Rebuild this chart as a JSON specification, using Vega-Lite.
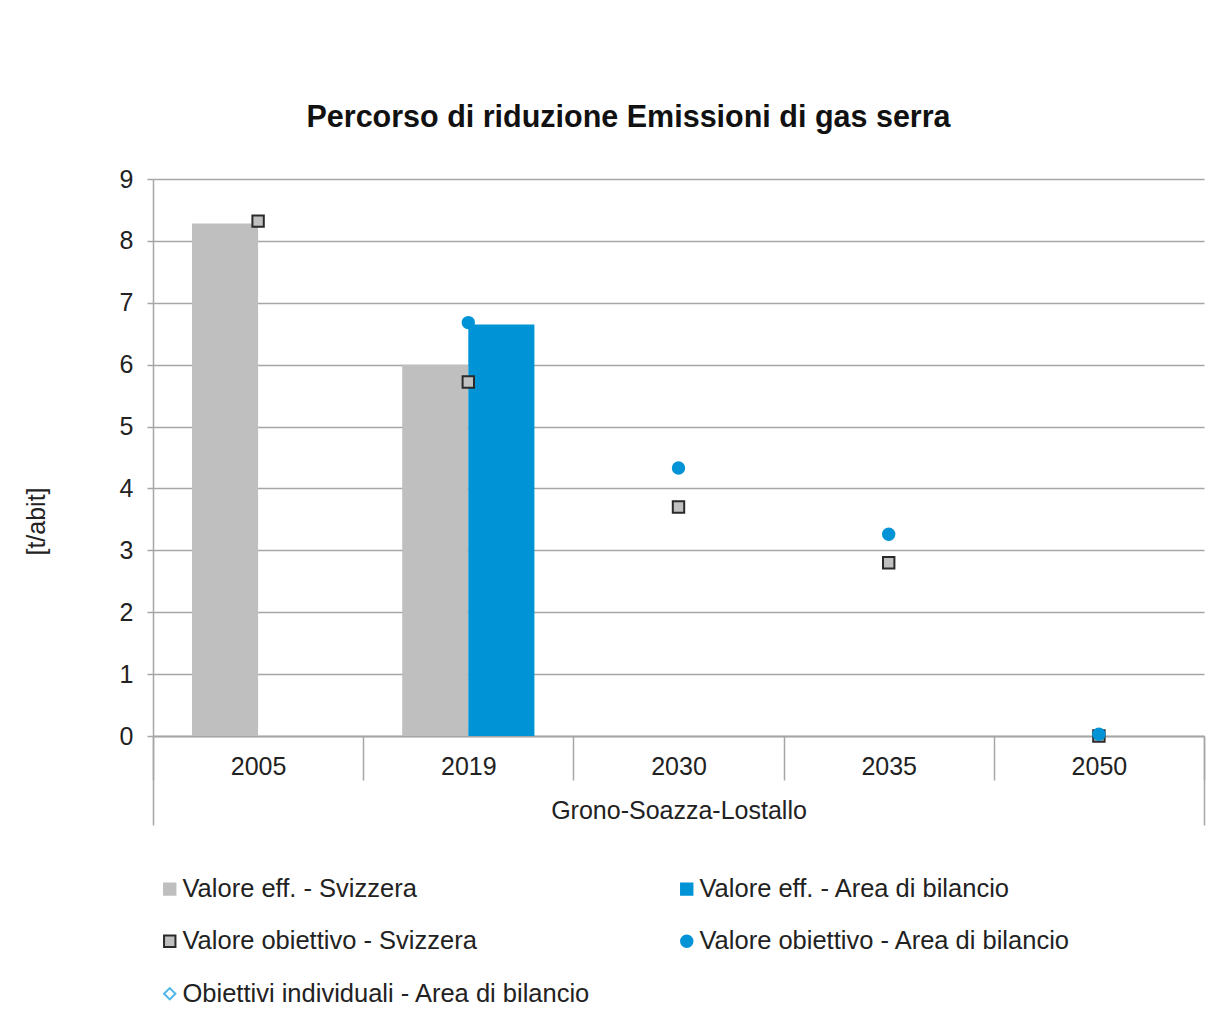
{
  "$schema": "https://vega.github.io/schema/vega-lite/v6.json",
  "width": 1051,
  "height": 557,
  "autosize": "none",
  "padding": {"left": 153, "top": 179, "right": 21, "bottom": 283},
  "background": "white",
  "title": {
    "text": "Percorso di riduzione Emissioni di gas serra",
    "font": "Liberation Sans",
    "fontSize": 30.5,
    "fontWeight": "bold",
    "color": "#111111",
    "anchor": "middle",
    "frame": "group",
    "dx": -50,
    "offset": 34
  },
  "config": {
    "view": {"stroke": null},
    "font": "Liberation Sans",
    "axis": {
      "labelFont": "Liberation Sans",
      "titleFont": "Liberation Sans",
      "labelColor": "#222222",
      "titleColor": "#222222",
      "domainColor": "#a6a6a6",
      "tickColor": "#a6a6a6",
      "gridColor": "#a6a6a6",
      "domainWidth": 1.5,
      "tickWidth": 1.5,
      "gridWidth": 1.5
    },
    "legend": {
      "orient": "none",
      "legendX": 4,
      "legendY": 697,
      "columns": 2,
      "columnPadding": 83,
      "rowPadding": 25.5,
      "labelFont": "Liberation Sans",
      "labelFontSize": 25.5,
      "labelColor": "#222222",
      "labelLimit": 700,
      "labelOffset": 0,
      "symbolSize": 130,
      "symbolStrokeWidth": 2
    }
  },
  "datasets": {
    "barre": [
      {"anno": "2005", "serie": "Valore eff. - Svizzera", "valore": 8.28},
      {"anno": "2019", "serie": "Valore eff. - Svizzera", "valore": 6.0},
      {"anno": "2019", "serie": "Valore eff. - Area di bilancio", "valore": 6.65}
    ],
    "punti": [
      {"anno": "2005", "serie": "Valore obiettivo - Svizzera", "valore": 8.32},
      {"anno": "2019", "serie": "Valore obiettivo - Svizzera", "valore": 5.72},
      {"anno": "2030", "serie": "Valore obiettivo - Svizzera", "valore": 3.7},
      {"anno": "2035", "serie": "Valore obiettivo - Svizzera", "valore": 2.8},
      {"anno": "2050", "serie": "Valore obiettivo - Svizzera", "valore": 0},
      {"anno": "2019", "serie": "Valore obiettivo - Area di bilancio", "valore": 6.68},
      {"anno": "2030", "serie": "Valore obiettivo - Area di bilancio", "valore": 4.33},
      {"anno": "2035", "serie": "Valore obiettivo - Area di bilancio", "valore": 3.26},
      {"anno": "2050", "serie": "Valore obiettivo - Area di bilancio", "valore": 0.03}
    ],
    "gruppo": [
      {"gruppo": "Grono-Soazza-Lostallo"}
    ]
  },
  "layer": [
    {
      "layer": [
        {
          "data": {"name": "barre"},
          "mark": {"type": "bar"},
          "encoding": {
            "x": {
              "field": "anno",
              "type": "nominal",
              "sort": ["2005", "2019", "2030", "2035", "2050"],
              "scale": {"type": "band", "domain": ["2005", "2019", "2030", "2035", "2050"], "paddingInner": 0, "paddingOuter": 0},
              "axis": {
                "title": null,
                "orient": "bottom",
                "labelAngle": 0,
                "labelFontSize": 25,
                "tickBand": "extent",
                "tickSize": 44,
                "labelPadding": -26,
                "grid": false
              }
            },
            "xOffset": {
              "field": "serie",
              "type": "nominal",
              "scale": {"domain": ["Valore eff. - Svizzera", "Valore eff. - Area di bilancio"], "paddingInner": 0, "paddingOuter": 0.59}
            },
            "y": {
              "field": "valore",
              "type": "quantitative",
              "scale": {"domain": [0, 9], "nice": false},
              "axis": {
                "title": "[t/abit]",
                "titleFontSize": 25,
                "titleFontWeight": "normal",
                "titleX": -117,
                "titleY": 342,
                "titleBaseline": "middle",
                "titleAngle": -90,
                "values": [0, 1, 2, 3, 4, 5, 6, 7, 8, 9],
                "format": "d",
                "labelFontSize": 25,
                "labelPadding": 14,
                "tickSize": 6,
                "grid": true
              }
            },
            "fill": {
              "field": "serie",
              "type": "nominal",
              "scale": {
                "domain": ["Valore eff. - Svizzera", "Valore obiettivo - Svizzera", "Obiettivi individuali - Area di bilancio", "Valore eff. - Area di bilancio", "Valore obiettivo - Area di bilancio"],
                "range": ["#bfbfbf", "#c0c0c0", "#ffffff", "#0093d6", "#0093d6"]
              },
              "legend": {"title": null}
            }
          }
        },
        {
          "data": {"name": "punti"},
          "mark": {"type": "point", "filled": true, "size": 130, "strokeWidth": 2, "opacity": 1},
          "encoding": {
            "x": {"field": "anno", "type": "nominal", "scale": {"type": "band"}},
            "y": {"field": "valore", "type": "quantitative"},
            "fill": {"field": "serie", "type": "nominal", "legend": {"title": null}},
            "stroke": {
              "field": "serie",
              "type": "nominal",
              "scale": {
                "domain": ["Valore eff. - Svizzera", "Valore obiettivo - Svizzera", "Obiettivi individuali - Area di bilancio", "Valore eff. - Area di bilancio", "Valore obiettivo - Area di bilancio"],
                "range": ["#bfbfbf", "#2a2a2a", "#4fb6e8", "#0093d6", "#0093d6"]
              },
              "legend": {"title": null}
            },
            "shape": {
              "field": "serie",
              "type": "nominal",
              "scale": {
                "domain": ["Valore eff. - Svizzera", "Valore obiettivo - Svizzera", "Obiettivi individuali - Area di bilancio", "Valore eff. - Area di bilancio", "Valore obiettivo - Area di bilancio"],
                "range": ["square", "square", "diamond", "square", "circle"]
              },
              "legend": {"title": null}
            }
          }
        }
      ]
    },
    {
      "data": {"name": "gruppo"},
      "mark": {"type": "point", "opacity": 0},
      "encoding": {
        "x": {
          "field": "gruppo",
          "type": "nominal",
          "scale": {"type": "band", "paddingInner": 0, "paddingOuter": 0},
          "axis": {
            "title": null,
            "orient": "bottom",
            "labelAngle": 0,
            "labelFontSize": 25,
            "labelLimit": 700,
            "tickBand": "extent",
            "tickSize": 89,
            "labelPadding": -27,
            "grid": false
          }
        }
      }
    }
  ],
  "resolve": {"scale": {"x": "independent"}}
}
